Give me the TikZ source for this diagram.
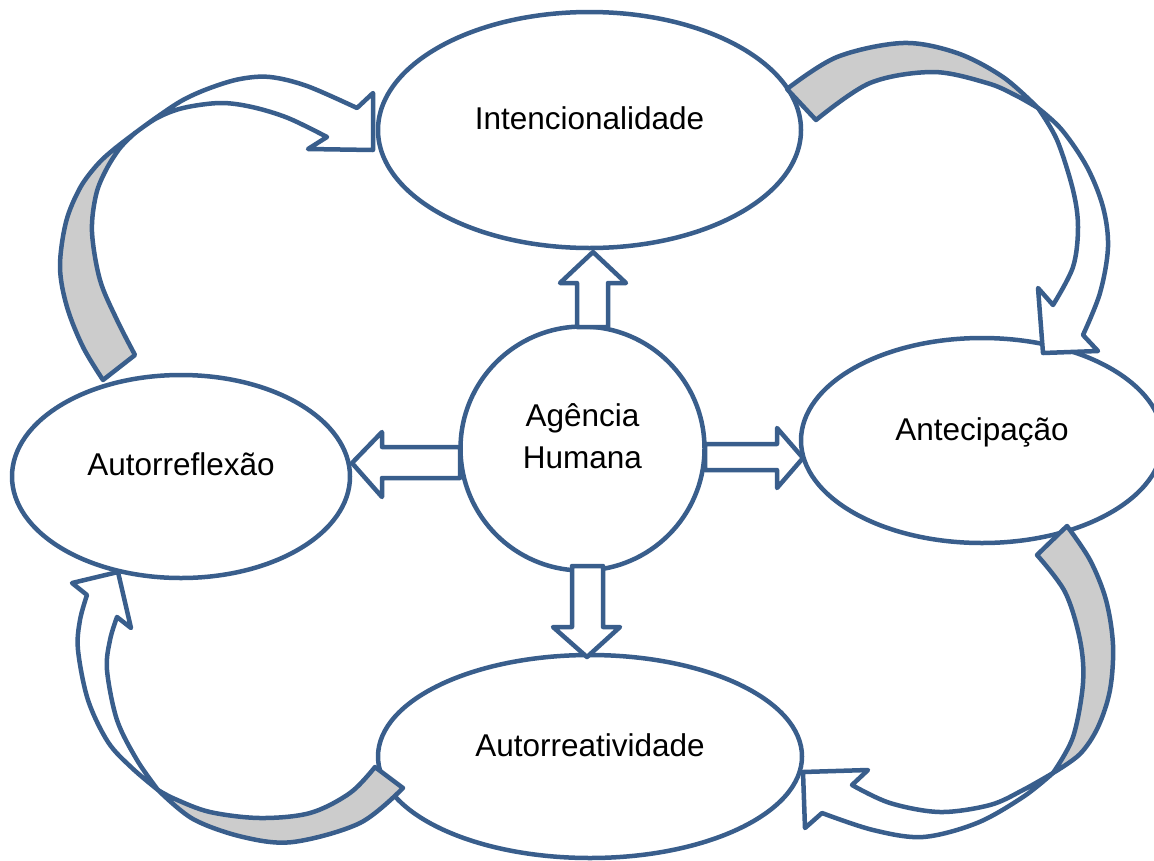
\documentclass[tikz,border=0pt]{standalone}
\usepackage{fontspec}
\setmainfont{Liberation Sans}
\usetikzlibrary{shapes.geometric}
\definecolor{edgeblue}{RGB}{57,94,140}
\definecolor{backgray}{RGB}{204,204,204}
\begin{document}
\begin{tikzpicture}[x=1pt,y=-1pt,
  lw/.style={line width=4.5pt, draw=edgeblue, line join=round},
  bubble/.style={lw, ellipse, fill=white, inner sep=0pt},
  lbl/.style={font=\fontsize{31.5}{41}\selectfont, text=black, anchor=base, inner sep=0pt},
  blockarrow/.style={lw, fill=white},
  backface/.style={lw, fill=backgray},
  frontface/.style={lw, fill=white},
  sm/.style={smooth, tension=0.55}]
\useasboundingbox (0,0) rectangle (1154,860);
\clip (0,0) rectangle (1154,860);

% ellipses
\node[bubble, minimum width=423pt, minimum height=236pt] (int) at (589.5,130) {};
\node[bubble, minimum width=362pt, minimum height=205pt] (ant) at (982,440.5) {};
\node[bubble, minimum width=338pt, minimum height=203pt] (ref) at (181,476.5) {};
\node[bubble, minimum width=424pt, minimum height=203pt] (rea) at (590,756.5) {};

\node[lbl] (intT) at ([yshift=1pt]int.center) {Intencionalidade};
\node[lbl] (antT) at (ant.center) {Antecipação};
\node[lbl] (refT) at ([yshift=1.5pt]ref.center) {Autorreflexão};
\node[lbl] (reaT) at (rea.center) {Autorreatividade};

% curved arrow: Autorreflexao -> Intencionalidade
\filldraw[backface] plot[sm] coordinates {(103,380) (83,347) (67,307) (60,267) (66,222) (80,188) (97,165) (113,150) (135,133)}
  -- plot[sm] coordinates {(135,133) (120,148) (106,170) (96,195) (92,232) (100,280) (117,320) (135,355)} -- cycle;
\filldraw[frontface] plot[sm] coordinates {(135,133) (157,117) (183,100) (210,88) (240,79) (270,77) (307,86) (357,108)}
  -- (373,93) -- (373,150) -- (308,149)
  -- plot[sm] coordinates {(327,137) (288,118) (252,107) (220,103) (183,108) (157,118) (135,133)} -- cycle;

% curved arrow: Intencionalidade -> Antecipacao
\filldraw[backface] plot[sm] coordinates {(787,89) (837,57) (903,43) (957,53) (1003,77) (1038,108)}
  -- plot[sm] coordinates {(1038,108) (1015,95) (987,83) (933,72) (870,83) (816,120)} -- cycle;
\filldraw[frontface] plot[sm] coordinates {(1038,108) (1062,130) (1087,167) (1103,207) (1108,247) (1100,293) (1083,335)}
  -- (1098,351) -- (1043,353) -- (1038,288)
  -- plot[sm] coordinates {(1053,305) (1073,267) (1078,227) (1073,190) (1057,140) (1038,108)} -- cycle;

% curved arrow: Antecipacao -> Autorreatividade
\filldraw[backface] plot[sm] coordinates {(1067,526) (1090,560) (1106,600) (1113,645) (1110,690) (1098,727) (1080,754) (1053,773)}
  -- plot[sm] coordinates {(1053,773) (1073,737) (1083,683) (1080,640) (1065,592) (1037,555)} -- cycle;
\filldraw[frontface] plot[sm] coordinates {(1053,773) (1023,797) (977,823) (923,837) (873,830) (822,813)}
  -- (805,828) -- (803,772) -- (868,770)
  -- plot[sm] coordinates {(852,785) (890,803) (940,812) (990,805) (1023,790) (1053,773)} -- cycle;

% curved arrow: Autorreatividade -> Autorreflexao
\filldraw[backface] plot[sm] coordinates {(403,788) (360,823) (293,842) (243,837) (193,819) (158,790)}
  -- plot[sm] coordinates {(158,790) (175,799) (210,812) (260,818) (310,813) (350,793) (375,767)} -- cycle;
\filldraw[frontface] plot[sm] coordinates {(158,790) (132,768) (108,742) (88,700) (78,650) (80,620) (87,595)}
  -- (72,583) -- (118,572) -- (131,628)
  -- plot[sm] coordinates {(117,617) (110,640) (107,670) (117,720) (137,760) (158,790)} -- cycle;

% centre
\node[lw, circle, fill=white, minimum size=244pt, inner sep=0pt] (hum) at (582.5,448.5) {};
\node[lbl] (humT1) at ([yshift=22.5pt]hum.center) {Agência};
\node[lbl] (humT2) at ([yshift=-19.5pt]hum.center) {Humana};

% block arrows
\filldraw[blockarrow] (577,327) -- (577,283) -- (560,283) -- (593,252) -- (626,283) -- (608,283) -- (608,327) -- cycle;
\filldraw[blockarrow] (460,447) -- (382,447) -- (382,432) -- (352,463) -- (382,497) -- (382,478) -- (460,478) -- cycle;
\filldraw[blockarrow] (705,444) -- (777,444) -- (777,428) -- (803,458) -- (777,488) -- (777,470) -- (705,470) -- cycle;
\filldraw[blockarrow] (572,566) -- (572,627) -- (553,627) -- (587,657) -- (620,627) -- (603,627) -- (603,566) -- cycle;
\end{tikzpicture}
\end{document}
